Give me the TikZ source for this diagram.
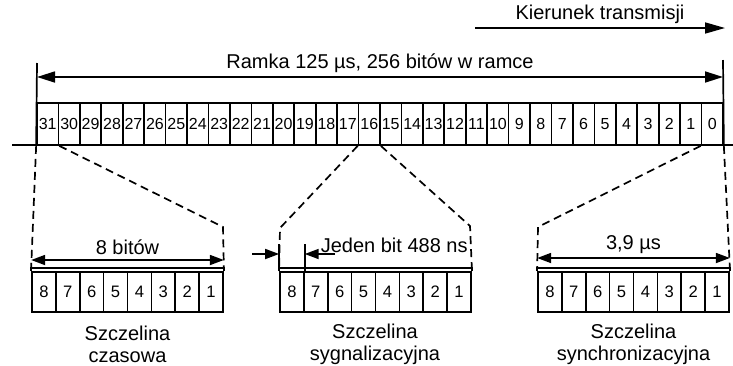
\documentclass[tikz,border=0pt]{standalone}
\usepackage{fontspec}
\setmainfont{Liberation Sans}
\usetikzlibrary{arrows.meta}

\begin{document}
\begin{tikzpicture}[x=0.5pt,y=-0.5pt,line width=0.85pt,
    bit/.style={draw, inner sep=0pt, minimum width=10.72pt, minimum height=21pt, font=\fontsize{8}{9}\selectfont},
    slotbit/.style={draw, inner sep=0pt, minimum width=11.94pt, minimum height=20pt, font=\fontsize{8.3}{9}\selectfont},
    bigdim/.style={{Triangle[length=9pt,width=5.5pt]}-{Triangle[length=9pt,width=5.5pt]}},
    dim/.style={{Triangle[length=7pt,width=5pt]}-{Triangle[length=7pt,width=5pt]}},
    tick/.style={-{Triangle[length=7pt,width=5pt]}},
    guide/.style={dash pattern=on 4pt off 2.5pt},
    lbl/.style={font=\fontsize{10}{11}\selectfont, inner sep=1pt},
    caption/.style={font=\fontsize{10}{11}\selectfont, align=center}]
    \useasboundingbox (0,0) rectangle (733,365);
    % ramka
    \foreach \n in {0,...,31}
        \node[bit] (f\n) at ({37+(31-\n+0.5)*21.4375},124) {\n};
    \coordinate (axL) at (12,145);
    \coordinate (axR) at (733,145);
    \draw (axL) -- (axR);
    \coordinate (ltop) at (37,63);
    \coordinate (rtop) at (723,60);
    \draw (f31.south west) -- (ltop);
    \draw (f0.south east) -- (rtop);
    \draw [bigdim] (ltop |- 0,77) -- (rtop |- 0,77)
        node [lbl, midway, above=1pt] {Ramka 125 µs, 256 bitów w ramce};
    \coordinate (kL) at (475,28);
    \coordinate (kR) at (725,28);
    \draw [-{Triangle[length=10pt,width=5.5pt]}] (kL) -- (kR)
        node [lbl, midway, above=1pt] {Kierunek transmisji};
    % szczeliny
    \foreach \s/\x in {1/32,2/280,3/538} {
        \foreach \b in {1,...,8}
            \node[slotbit] (s\s b\b) at ({\x+(8-\b+0.5)*23.875},292) {\b};
        \draw (s\s b8.north west) -- ++(0,-3) -| (s\s b1.north east);
    }
    % szczelina czasowa
    \coordinate (a1) at (223,227);
    \draw [guide] (f31.south west) -- ([yshift=1.5pt]s1b8.north west);
    \draw [guide] (f31.south east) -- (a1) -- ([yshift=1.5pt]s1b1.north east);
    \draw [dim] (s1b8.north west |- 0,260) -- (s1b1.north east |- 0,260)
        node [lbl, midway, above=1pt] {8 bitów};
    % szczelina sygnalizacyjna
    \coordinate (a2) at (280,228);
    \coordinate (b2) at (470,226);
    \draw [guide] (f16.south west) -- (a2) -- ([yshift=1.5pt]s2b8.north west);
    \draw [guide] (f16.south east) -- (b2) -- ([yshift=1.5pt]s2b1.north east);
    \draw (s2b8.north west) -- ++(0,-27);
    \draw (s2b8.north east) -- ++(0,-27);
    \coordinate (j1) at (252,254);
    \coordinate (j2) at (335,254);
    \draw [tick] (j1) -- (s2b8.north west |- j1);
    \draw [tick] (j2) -- (s2b8.north east |- j2);
    \node [lbl, anchor=base west, inner sep=0pt] (jb) at (320,252) {Jeden bit 488 ns};
    % szczelina synchronizacyjna
    \coordinate (a3) at (538,227);
    \draw [guide] (f0.south west) -- (a3) -- ([yshift=1.5pt]s3b8.north west);
    \draw [guide] (f0.south east) -- ([yshift=1.5pt]s3b1.north east);
    \draw [dim] (s3b8.north west |- 0,258) -- (s3b1.north east |- 0,258)
        node [lbl, midway, above=1pt] {3,9 µs};
    % podpisy
    \node [caption] (c1) at (127.5,344) {Szczelina\\czasowa};
    \node [caption] (c2) at (375,344) {Szczelina\\sygnalizacyjna};
    \node [caption] (c3) at (633.5,344) {Szczelina\\synchronizacyjna};
\end{tikzpicture}
\end{document}
